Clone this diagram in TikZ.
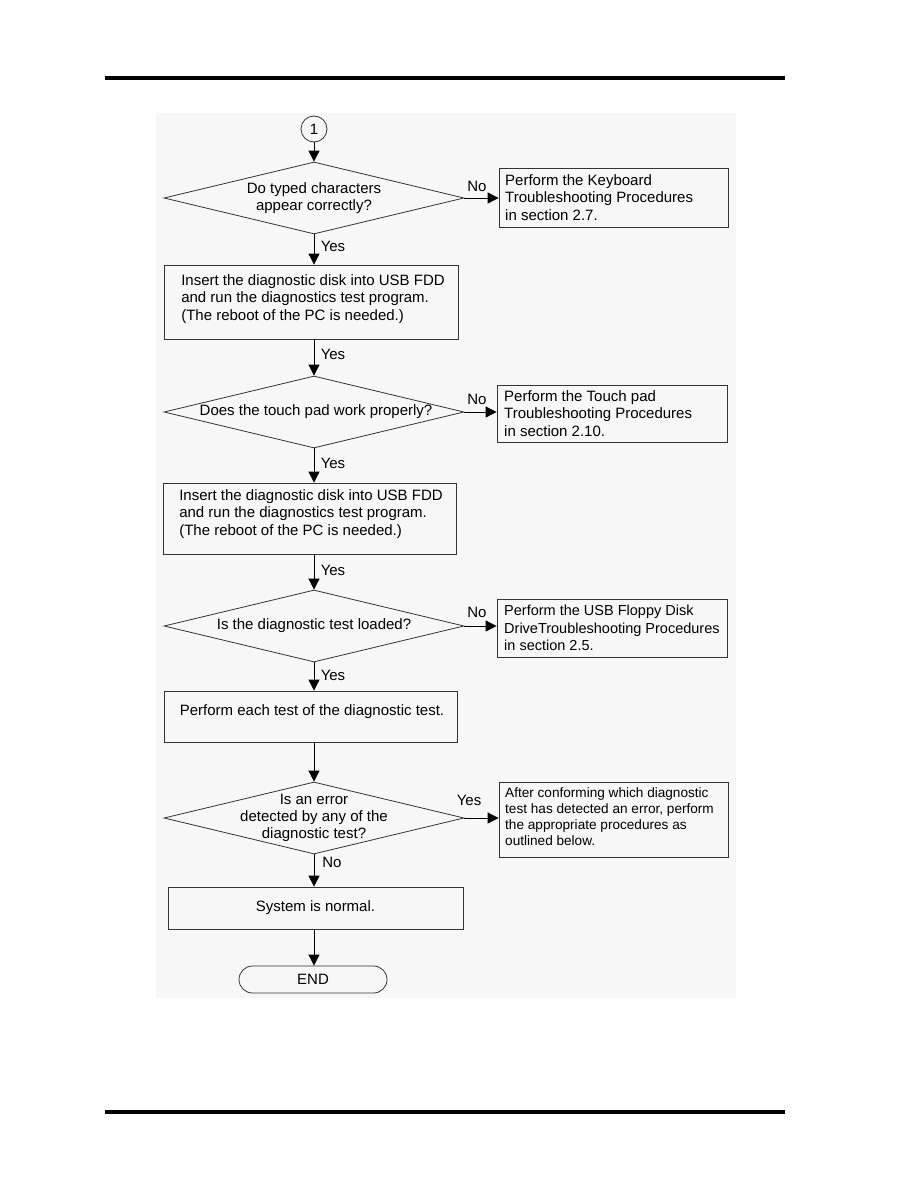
\documentclass[tikz,border=0pt]{standalone}
\usepackage{fontspec}
\setmainfont{Liberation Sans}
\usetikzlibrary{shapes.geometric,arrows.meta}
\begin{document}
\begin{tikzpicture}[x=1pt,y=-1pt,
  every node/.style={font=\fontsize{15}{17.3}\selectfont},
  box/.style={draw=black!80,line width=0.8pt,rectangle,inner sep=0pt},
  dia/.style={draw=black!80,line width=0.8pt,diamond,inner sep=0pt,minimum width=300pt,minimum height=72pt},
  txt/.style={align=center,inner sep=0pt},
  rtxt/.style={align=left,inner sep=0pt,anchor=west},
  lab/.style={inner sep=0pt},
  arr/.style={line width=0.8pt,-{Triangle[length=11pt,width=11pt]}}
]
\useasboundingbox (0,0) rectangle (918,1188);
\fill[black!3] (156,113) rectangle (736,998);
\fill[black] (105,76) rectangle (785,80);
\fill[black] (105,1110) rectangle (785,1114);

% start connector
\node[draw=black!80,line width=0.8pt,circle,minimum size=26pt,inner sep=0pt] (c1) at (314,129) {1};

% decision 1
\node[dia] (d1) at (314,198) {};
\node[txt] (d1t) at (314,198) {Do typed characters\\appear correctly?};
\node[box,minimum width=229pt,minimum height=59pt] (k1) at (613.5,197.5) {};
\node[rtxt] (k1t) at (505,197.5) {Perform the Keyboard\\Troubleshooting Procedures\\in section 2.7.};

% box A
\node[box,minimum width=294pt,minimum height=74pt] (bA) at (311,302) {};
\node[txt,align=left] (bAt) at (313,299) {Insert the diagnostic disk into USB FDD\\and run the diagnostics test program.\\(The reboot of the PC is needed.)};

% decision 2
\node[dia] (d2) at (314,412) {};
\node[txt] (d2t) at (316,412) {Does the touch pad work properly?};
\node[box,minimum width=230pt,minimum height=57pt] (k2) at (612,413.5) {};
\node[rtxt] (k2t) at (504,413.5) {Perform the Touch pad\\Troubleshooting Procedures\\in section 2.10.};

% box B
\node[box,minimum width=293pt,minimum height=71pt] (bB) at (309.5,518.5) {};
\node[txt,align=left] (bBt) at (311,514) {Insert the diagnostic disk into USB FDD\\and run the diagnostics test program.\\(The reboot of the PC is needed.)};

% decision 3
\node[dia] (d3) at (314,626) {};
\node[txt] (d3t) at (314,626) {Is the diagnostic test loaded?};
\node[box,minimum width=230pt,minimum height=58pt] (k3) at (612,628) {};
\node[rtxt,font=\fontsize{14.5}{17.3}\selectfont] (k3t) at (504,628) {Perform the USB Floppy Disk\\DriveTroubleshooting Procedures\\in section 2.5.};

% box C
\node[box,minimum width=293pt,minimum height=51pt] (bC) at (310.5,716.5) {};
\node[txt] (bCt) at (312,712) {Perform each test of the diagnostic test.};

% decision 4
\node[dia] (d4) at (314,818) {};
\node[txt] (d4t) at (314,818) {Is an error\\detected by any of the\\diagnostic test?};
\node[box,minimum width=229pt,minimum height=75pt] (k4) at (613.5,819.5) {};
\node[rtxt,font=\fontsize{13.6}{16}\selectfont] (k4t) at (505,817) {After conforming which diagnostic\\test has detected an error, perform\\the appropriate procedures as\\outlined below.};

% box D
\node[box,minimum width=295pt,minimum height=42pt] (bD) at (315.5,908) {System is normal.};

% END
\node[draw=black!80,line width=0.8pt,rectangle,rounded corners=13.5pt,minimum width=148pt,minimum height=27pt,inner sep=0pt] (end) at (313,979.5) {END};

% connectors
\draw[arr] (c1.south) -- (d1.north);
\draw[arr] (d1.east) -- (d1.east -| k1.west);
\draw[arr] (d1.south) -- (d1.south |- bA.north);
\draw[arr] (d1.south |- bA.south) -- (d2.north);
\draw[arr] (d2.east) -- (d2.east -| k2.west);
\draw[arr] (d2.south) -- (d2.south |- bB.north);
\draw[arr] (d2.south |- bB.south) -- (d3.north);
\draw[arr] (d3.east) -- (d3.east -| k3.west);
\draw[arr] (d3.south) -- (d3.south |- bC.north);
\draw[arr] (d3.south |- bC.south) -- (d4.north);
\draw[arr] (d4.east) -- (d4.east -| k4.west);
\draw[arr] (d4.south) -- (d4.south |- bD.north);
\draw[arr] (d4.south |- bD.south) -- (d4.south |- end.north);

% labels
\node[lab] (n1) at (477,186) {No};
\node[lab] (y1) at (333,246) {Yes};
\node[lab] (y2) at (333,354) {Yes};
\node[lab] (n2) at (477,399) {No};
\node[lab] (y3) at (333,463) {Yes};
\node[lab] (y4) at (333,570) {Yes};
\node[lab] (n3) at (477,612) {No};
\node[lab] (y5) at (333,675) {Yes};
\node[lab] (y6) at (469,800) {Yes};
\node[lab] (n4) at (332,862) {No};
\end{tikzpicture}
\end{document}
